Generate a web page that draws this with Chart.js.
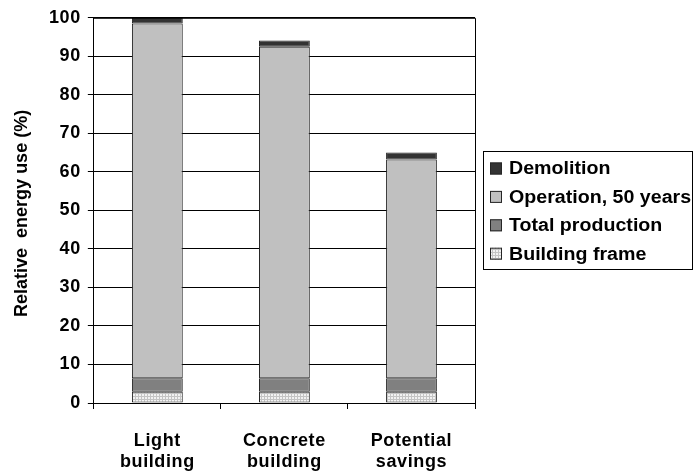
<!DOCTYPE html>
<html>
<head>
<meta charset="utf-8">
<script src="https://cdn.jsdelivr.net/npm/chart.js@4/dist/chart.umd.min.js"></script>
<style>
  html, body { margin: 0; padding: 0; background: #fff; }
  #wrap { width: 695px; height: 474px; position: relative; }
</style>
</head>
<body>
<div id="wrap"><canvas id="c" width="695" height="474"></canvas></div>
<script>
// Relative energy use (%) by building type, stacked by life-cycle phase
const categories = [["Light", "building"], ["Concrete", "building"], ["Potential", "savings"]];
const buildingFrame = [2.9, 2.9, 2.9];
const totalProduction = [3.5, 3.5, 3.5];
const operation50 = [92.1, 86.1, 56.8];
const demolition = [1.5, 1.6, 1.8];
const yTicks = [0, 10, 20, 30, 40, 50, 60, 70, 80, 90, 100];
const yTitle = 'Relative  energy use (%)';

const FONT = '"Liberation Sans", Arial, sans-serif';
const SPACING = '0.6px';

// Dotted fill for the building frame segment
function dottedPattern() {
  const p = document.createElement('canvas');
  p.width = 3; p.height = 3;
  const g = p.getContext('2d');
  g.fillStyle = '#f2f2f2';
  g.fillRect(0, 0, 3, 3);
  g.fillStyle = '#c4c4c4';
  g.fillRect(0, 0, 3, 1);
  g.fillRect(0, 0, 1, 3);
  return g.createPattern(p, 'repeat');
}
const frameFill = dottedPattern();

const datasets = [
  { label: 'Building frame', data: buildingFrame, backgroundColor: frameFill },
  { label: 'Total production', data: totalProduction, backgroundColor: '#808080' },
  { label: 'Operation, 50 years', data: operation50, backgroundColor: '#c0c0c0' },
  { label: 'Demolition', data: demolition, backgroundColor: '#333333' }
].map(d => Object.assign(d, {
  borderColor: '#262626',
  borderWidth: 1,
  borderSkipped: false,
  categoryPercentage: 1.0,
  barPercentage: 0.4
}));

// Slightly wide lettering for axis labels
const spacingPlugin = {
  id: 'wideText',
  beforeUpdate(chart) { chart.ctx.letterSpacing = SPACING; },
  beforeDraw(chart) { chart.ctx.letterSpacing = SPACING; }
};

// Frame around the plot area, the vertical axis title and a boxed legend
const framePlugin = {
  id: 'plotFrame',
  afterDraw(chart) {
    const { ctx, chartArea: a } = chart;
    ctx.save();
    ctx.letterSpacing = '0px';
    ctx.strokeStyle = '#000';
    ctx.lineWidth = 1;
    ctx.beginPath();
    ctx.moveTo(a.left, a.top + 0.5);
    ctx.lineTo(a.right + 0.5, a.top + 0.5);
    ctx.lineTo(a.right + 0.5, a.bottom);
    ctx.stroke();

    // axis title
    ctx.save();
    ctx.translate(22, (a.top + a.bottom) / 2 + 3);
    ctx.rotate(-Math.PI / 2);
    ctx.font = 'bold 18px ' + FONT;
    ctx.fillStyle = '#000';
    ctx.textAlign = 'center';
    ctx.textBaseline = 'middle';
    ctx.fillText(yTitle, 0, 0);
    ctx.restore();

    // legend
    const items = chart.data.datasets.slice().reverse();
    const bx = 483.5, by = 151.5, bw = 209, bh = 118;
    ctx.strokeStyle = '#000';
    ctx.strokeRect(bx, by, bw, bh);
    ctx.font = 'bold 18px ' + FONT;
    ctx.textBaseline = 'middle';
    ctx.textAlign = 'left';
    items.forEach((ds, i) => {
      const cy = 168.5 + i * 28.4;
      ctx.fillStyle = ds.backgroundColor;
      ctx.fillRect(490, cy - 6, 12, 12);
      ctx.strokeStyle = '#262626';
      ctx.strokeRect(490.5, cy - 5.5, 11, 11);
      ctx.save();
      ctx.translate(509, cy + 1);
      ctx.scale(1.09, 1);
      ctx.fillStyle = '#000';
      ctx.fillText(ds.label, 0, 0);
      ctx.restore();
    });
    ctx.restore();
  }
};

new Chart(document.getElementById('c'), {
  type: 'bar',
  data: { labels: categories, datasets },
  options: {
    responsive: false,
    animation: false,
    devicePixelRatio: 1,
    layout: { padding: { left: 42, right: 220, top: 3, bottom: 0 } },
    plugins: { legend: { display: false }, tooltip: { enabled: false } },
    scales: {
      x: {
        stacked: true,
        afterFit(s) { s.height = 71; },
        grid: { display: true, drawOnChartArea: false, color: '#000', tickLength: 6, offset: true },
        border: { color: '#000', width: 1 },
        ticks: { color: '#000', font: { family: FONT, size: 18, weight: 'bold', lineHeight: 1.2 }, padding: 21, maxRotation: 0 }
      },
      y: {
        stacked: true,
        min: 0, max: 100,
        afterBuildTicks(s) { s.ticks = yTicks.map(v => ({ value: v })); },
        grid: { color: '#000', lineWidth: 1, tickLength: 6 },
        border: { color: '#000', width: 1 },
        ticks: { color: '#000', font: { family: FONT, size: 18, weight: 'bold' }, padding: 7 },
        title: { display: false }
      }
    }
  },
  plugins: [spacingPlugin, framePlugin]
});
</script>
</body>
</html>
